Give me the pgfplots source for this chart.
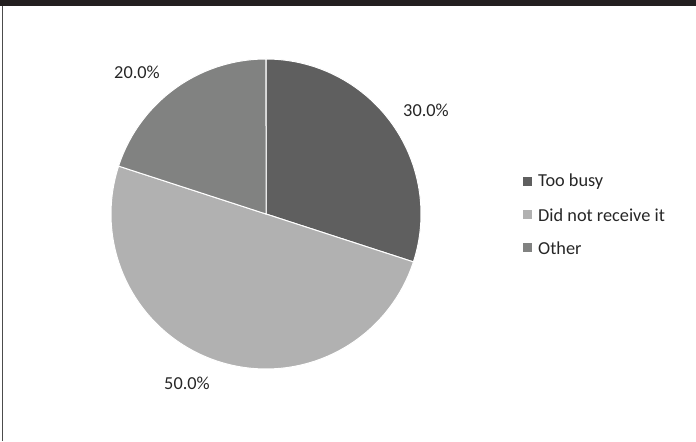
\documentclass[border=0pt]{standalone}
\usepackage{pgfplots}
\pgfplotsset{compat=1.18}
\usepackage{pgfplotstable}
\usepackage{fontspec}
\setmainfont{Carlito}
\definecolor{cbusy}{HTML}{5F5F5F}
\definecolor{cnot}{HTML}{B1B1B1}
\definecolor{cother}{HTML}{818281}
\definecolor{topbar}{HTML}{231F20}
\definecolor{txt}{HTML}{262626}
% percentages of the three answers
\pgfplotstableread{
slice value
1 30
2 50
3 20
}\piedata
\pgfplotstablegetelem{0}{value}\of\piedata \let\va\pgfplotsretval
\pgfplotstablegetelem{1}{value}\of\piedata \let\vb\pgfplotsretval
\pgfplotstablegetelem{2}{value}\of\piedata \let\vc\pgfplotsretval
\pgfmathsetmacro{\sa}{0}
\pgfmathsetmacro{\ea}{\va}
\pgfmathsetmacro{\sb}{\va}
\pgfmathsetmacro{\eb}{\va+\vb}
\pgfmathsetmacro{\sc}{\va+\vb}
\pgfmathsetmacro{\ec}{\va+\vb+\vc}
\def\cx{266}\def\cy{227}\def\rr{155}
\begin{document}
\begin{tikzpicture}
\begin{axis}[
  scale only axis, width=696bp, height=441bp,
  xmin=0, xmax=696, ymin=0, ymax=441,
  enlargelimits=false, hide axis, clip=false,
  font=\fontsize{18.3bp}{22bp}\selectfont\color{txt},
]
% frame decorations
\fill[topbar] (axis cs:0,435) rectangle (axis cs:696,441);
\draw[black!70, line width=1bp] (axis cs:2.5,0) -- (axis cs:2.5,435);
% slices
\addplot[fill=cbusy, draw=white, line width=1bp, domain=\sa:\ea, samples=80, variable=\p]
  ({\cx+\rr*cos(90-3.6*\p)}, {\cy+\rr*sin(90-3.6*\p)}) -- (axis cs:\cx,\cy) -- cycle;
\addplot[fill=cnot, draw=white, line width=1bp, domain=\sb:\eb, samples=120, variable=\p]
  ({\cx+\rr*cos(90-3.6*\p)}, {\cy+\rr*sin(90-3.6*\p)}) -- (axis cs:\cx,\cy) -- cycle;
\addplot[fill=cother, draw=white, line width=1bp, domain=\sc:\ec, samples=60, variable=\p]
  ({\cx+\rr*cos(90-3.6*\p)}, {\cy+\rr*sin(90-3.6*\p)}) -- (axis cs:\cx,\cy) -- cycle;
% data labels
\node at (axis cs:426,331) {30.0\%};
\node at (axis cs:137,369) {20.0\%};
\node at (axis cs:187,58) {50.0\%};
% legend
\fill[cbusy]  (axis cs:523,254.5) rectangle (axis cs:532,263.5);
\fill[cnot]   (axis cs:523,221.5) rectangle (axis cs:532,230.5);
\fill[cother] (axis cs:523,188.5) rectangle (axis cs:532,197.5);
\node[anchor=west, inner sep=0pt] at (axis cs:538,259) {Too busy};
\node[anchor=west, inner sep=0pt] at (axis cs:538,226) {Did not receive it};
\node[anchor=west, inner sep=0pt] at (axis cs:538,193) {Other};
\end{axis}
\end{tikzpicture}
\end{document}
